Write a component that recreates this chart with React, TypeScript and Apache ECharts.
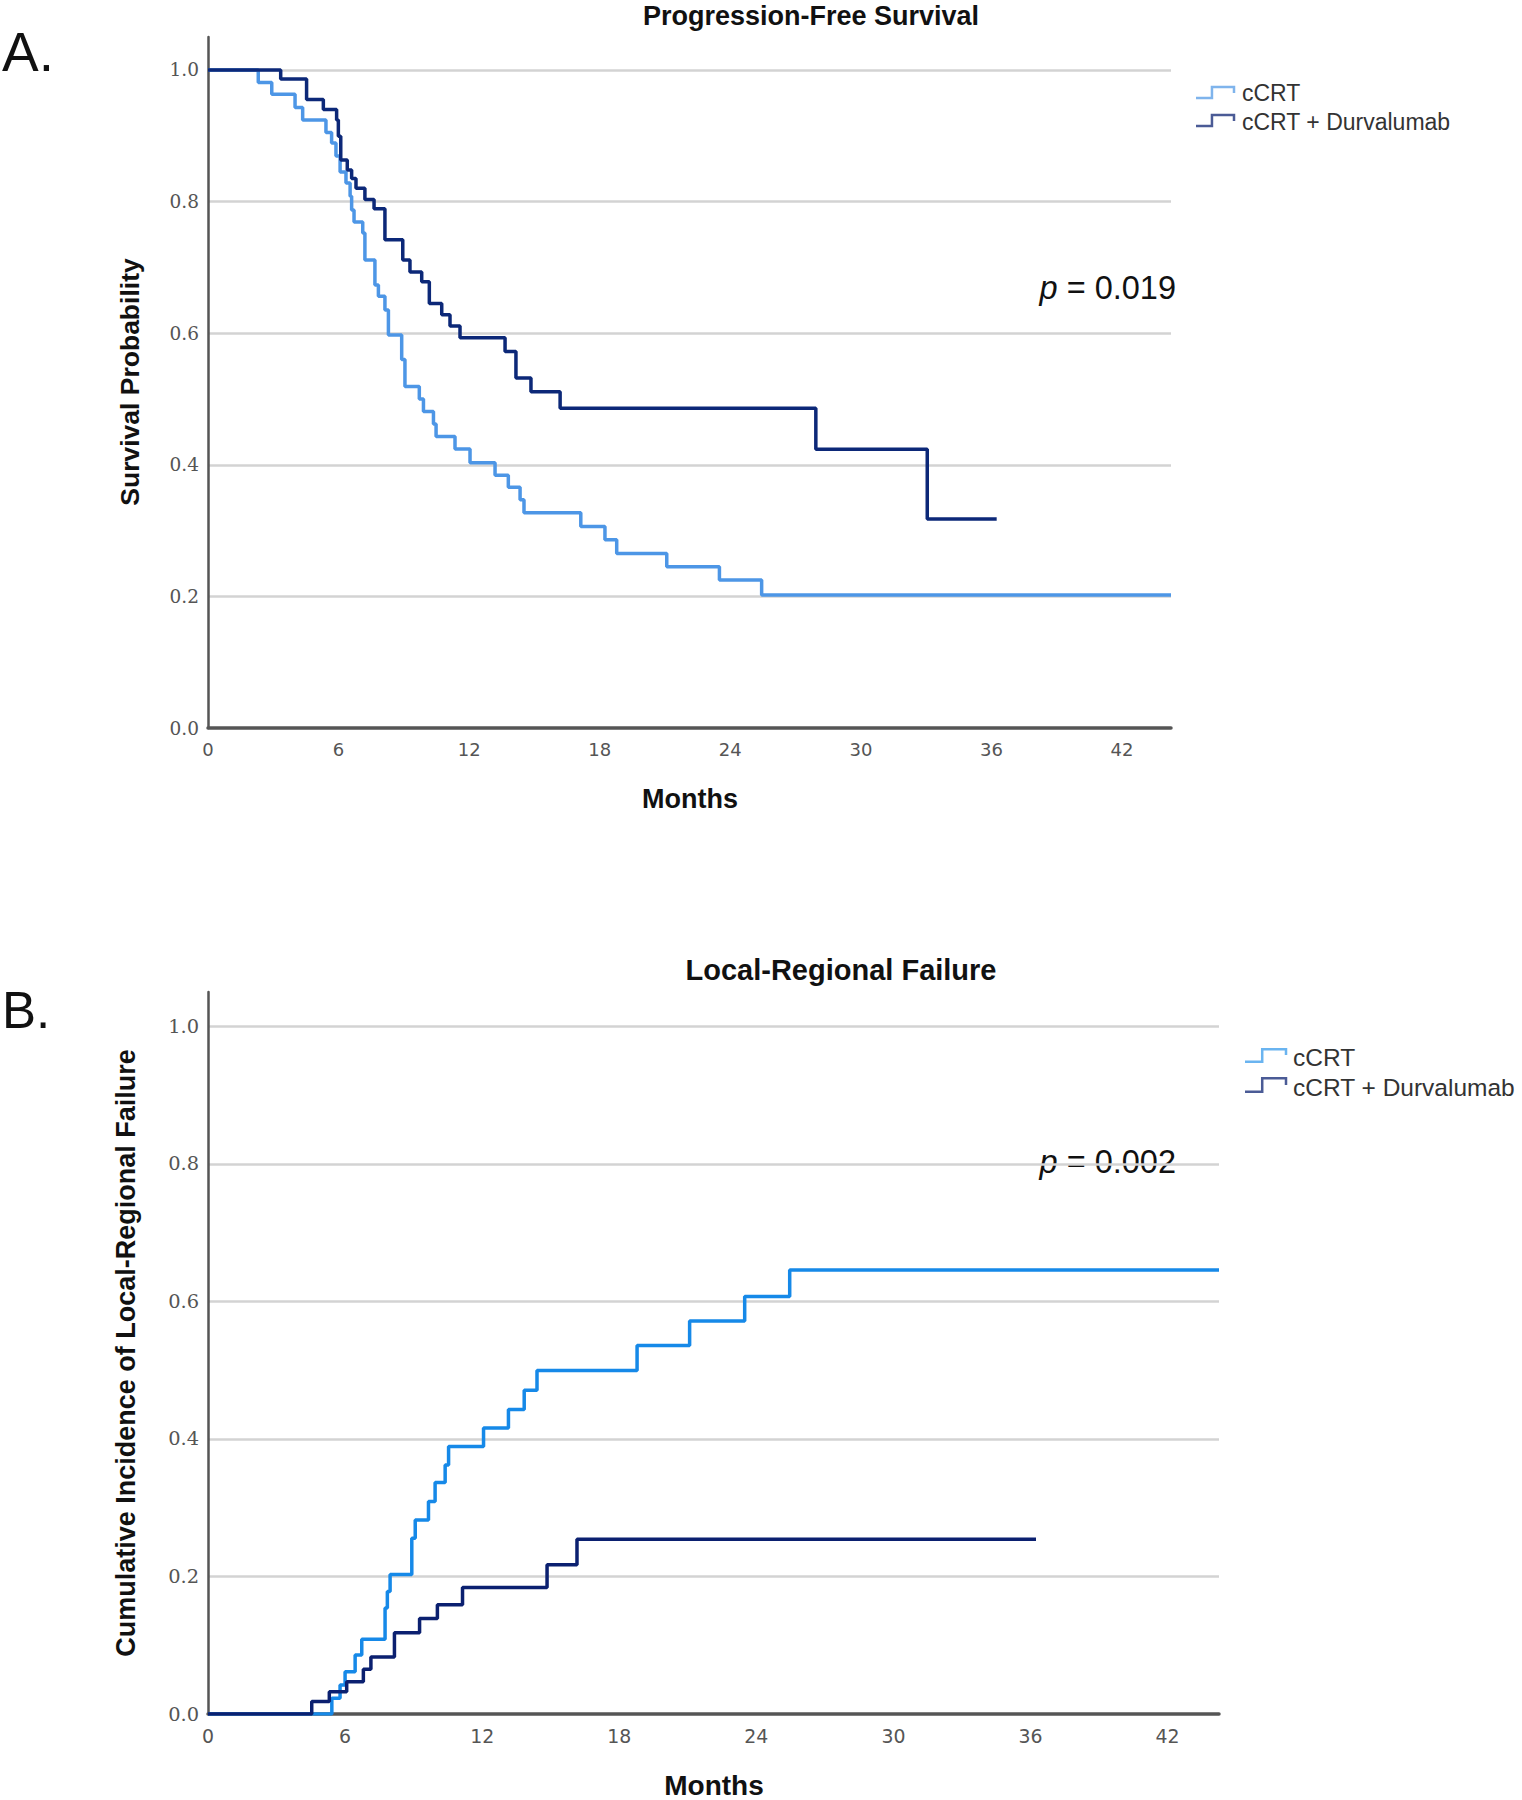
import React, { useEffect, useRef } from "react";
import * as echarts from "echarts";

// ---- data (months, probability) ----
const pfsCCRT: [number, number][] = [
  [0, 1.0], [2.31, 0.981], [2.93, 0.963], [4.0, 0.943], [4.35, 0.924], [5.42, 0.905],
  [5.68, 0.889], [5.88, 0.869], [6.07, 0.845], [6.34, 0.828], [6.53, 0.808], [6.6, 0.787],
  [6.71, 0.769], [7.11, 0.752], [7.21, 0.711], [7.67, 0.673], [7.83, 0.656], [8.13, 0.635],
  [8.29, 0.597], [8.9, 0.56], [9.05, 0.519], [9.71, 0.5], [9.9, 0.481], [10.36, 0.462],
  [10.48, 0.443], [11.35, 0.424], [12.04, 0.403], [13.19, 0.384], [13.8, 0.366],
  [14.34, 0.347], [14.52, 0.327], [17.13, 0.306], [18.24, 0.286], [18.78, 0.265],
  [21.08, 0.245], [23.5, 0.225], [25.44, 0.202], [44.25, 0.202],
];
const pfsDurva: [number, number][] = [
  [0, 1.0], [3.34, 0.986], [4.53, 0.955], [5.3, 0.94], [5.91, 0.924], [5.99, 0.899],
  [6.1, 0.863], [6.4, 0.848], [6.6, 0.835], [6.8, 0.82], [7.21, 0.803], [7.63, 0.789],
  [8.13, 0.742], [8.95, 0.711], [9.28, 0.693], [9.82, 0.678], [10.17, 0.645],
  [10.74, 0.628], [11.12, 0.611], [11.58, 0.593], [13.65, 0.572], [14.15, 0.532],
  [14.84, 0.511], [16.18, 0.486], [27.93, 0.4235], [33.05, 0.3176], [36.24, 0.3176],
];
const lrfCCRT: [number, number][] = [
  [0, 0], [5.42, 0.0228], [5.78, 0.042], [6.0, 0.0615], [6.44, 0.0858], [6.73, 0.1086],
  [7.75, 0.154], [7.85, 0.178], [7.97, 0.203], [8.92, 0.2555], [9.07, 0.282], [9.65, 0.309],
  [9.94, 0.3365], [10.38, 0.362], [10.53, 0.389], [12.06, 0.416], [13.15, 0.443],
  [13.84, 0.471], [14.4, 0.4994], [18.78, 0.5358], [21.08, 0.5716], [23.49, 0.607],
  [25.46, 0.6458], [44.25, 0.6458],
];
const lrfDurva: [number, number][] = [
  [0, 0], [4.54, 0.018], [5.31, 0.0325], [6.07, 0.047], [6.8, 0.065], [7.13, 0.083],
  [8.16, 0.118], [9.26, 0.139], [10.04, 0.159], [11.14, 0.184], [14.84, 0.217],
  [16.15, 0.254], [36.24, 0.254],
];

const groups = ["cCRT", "cCRT + Durvalumab"];
const titles = ["Progression-Free Survival", "Local-Regional Failure"];
const yTitles = ["Survival Probability", "Cumulative Incidence of Local-Regional Failure"];
const xTitle = "Months";
const pValues = ["0.019", "0.002"];
const panelLabels = ["A.", "B."];
const xTickStep = 6;
const yTickStep = 0.2;
const xMax = 44.25;
const yMax = 1.05;

const SANS = "'Liberation Sans', Arial, sans-serif";

export default function App() {
  const ref = useRef<HTMLDivElement>(null);
  useEffect(() => {
    if (!ref.current) return;
    const chart = echarts.init(ref.current, undefined, { renderer: "svg" });

    const isMult = (v: number, s: number) => Math.abs(v / s - Math.round(v / s)) < 1e-6;

    const grids = [
      { left: 208, top: 37, width: 963, height: 691 },
      { left: 208, top: 992, width: 1011, height: 722 },
    ];
    const fontScale = [1, 1.05];

    const xAxes = grids.map((_, i) => ({
      type: "value",
      gridIndex: i,
      min: 0,
      max: xMax,
      interval: xTickStep,
      axisLine: { show: true, lineStyle: { color: "#555", width: 3.5 } },
      axisTick: { show: false },
      splitLine: { show: false },
      axisLabel: {
        showMaxLabel: false,
        formatter: (v: number) => (isMult(v, xTickStep) ? String(Math.round(v)) : ""),
        fontFamily: "'DejaVu Sans', sans-serif",
        fontSize: 18 * fontScale[i],
        color: "#555",
        margin: 12,
      },
    }));
    const yAxes = grids.map((_, i) => ({
      type: "value",
      gridIndex: i,
      min: 0,
      max: yMax,
      interval: yTickStep,
      axisLine: { show: true, lineStyle: { color: "#555", width: 2.5 } },
      axisTick: { show: false },
      splitLine: {
        show: true,
        showMinLine: false,
        showMaxLine: false,
        lineStyle: { color: "#d3d3d3", width: 2.5 },
      },
      axisLabel: {
        showMaxLabel: false,
        formatter: (v: number) => (isMult(v, yTickStep) && v <= 1.0001 ? v.toFixed(1) : ""),
        fontFamily: "'DejaVu Serif', serif",
        fontSize: 18.5 * fontScale[i],
        color: "#555",
        margin: 9,
      },
    }));

    const mk = (name: string, data: [number, number][], idx: number, color: string) => ({
      name,
      type: "line",
      step: "end",
      xAxisIndex: idx,
      yAxisIndex: idx,
      data,
      showSymbol: false,
      symbol: "none",
      lineStyle: { width: 3.5, color },
      itemStyle: { color },
      z: 3,
    });

    const series = [
      mk(groups[0], pfsCCRT, 0, "#4d96e6"),
      mk(groups[1], pfsDurva, 0, "#0c2878"),
      mk(groups[0], lrfCCRT, 1, "#1689e8"),
      mk(groups[1], lrfDurva, 1, "#0b2070"),
    ];

    const legendIcon = (x: number, yLow: number, yTop: number, yEnd: number, w: number, color: string) => ({
      type: "polyline",
      shape: {
        points: [
          [x, yLow],
          [x + w * 0.42, yLow],
          [x + w * 0.42, yTop],
          [x + w, yTop],
          [x + w, yEnd],
        ],
      },
      style: { stroke: color, lineWidth: 2.5, fill: "none" },
    });
    const txt = (
      text: string, x: number, y: number, size: number,
      opts: { bold?: boolean; align?: string; rotation?: number; color?: string } = {}
    ) => ({
      type: "text",
      x,
      y,
      rotation: opts.rotation || 0,
      style: {
        text,
        fontFamily: SANS,
        fontSize: size,
        fontWeight: opts.bold ? "bold" : "normal",
        fill: opts.color || "#111",
        align: opts.align || "center",
        verticalAlign: "middle",
      },
    });
    const pText = (val: string, x: number, y: number, size: number) => ({
      type: "text",
      x,
      y,
      style: {
        text: "{i|p} = " + val,
        fontFamily: SANS,
        fontSize: size,
        fill: "#111",
        align: "right",
        verticalAlign: "middle",
        rich: {
          i: { fontStyle: "italic", fontFamily: SANS, fontSize: size, fill: "#111" },
        },
      },
    });

    const graphic = [
      txt(panelLabels[0], 2, 52, 55, { align: "left" }),
      txt(panelLabels[1], 2, 1010, 51, { align: "left" }),
      txt(titles[0], 811, 16, 27, { bold: true }),
      txt(titles[1], 841, 970, 29, { bold: true }),
      txt(yTitles[0], 130, 382, 26.5, { bold: true, rotation: Math.PI / 2 }),
      txt(yTitles[1], 126, 1353, 27, { bold: true, rotation: Math.PI / 2 }),
      txt(xTitle, 690, 799, 27, { bold: true }),
      txt(xTitle, 714, 1785, 28, { bold: true }),
      pText(pValues[0], 1176, 288, 32.5),
      pText(pValues[1], 1176, 1162, 32.5),
      legendIcon(1196, 98, 87, 93, 38, "#7fb4ec"),
      legendIcon(1196, 126, 115, 121, 38, "#4b5b96"),
      txt(groups[0], 1242, 93, 23, { align: "left", color: "#333" }),
      txt(groups[1], 1242, 122, 23, { align: "left", color: "#333" }),
      legendIcon(1245, 1061.7, 1049.3, 1055, 41, "#6ab4f0"),
      legendIcon(1245, 1091.7, 1078.3, 1085, 41, "#4b5b96"),
      txt(groups[0], 1293, 1057, 24.5, { align: "left", color: "#333" }),
      txt(groups[1], 1293, 1087, 24.5, { align: "left", color: "#333" }),
    ];

    chart.setOption({
      animation: false,
      backgroundColor: "#ffffff",
      grid: grids,
      xAxis: xAxes,
      yAxis: yAxes,
      series,
      graphic,
    } as any);

    return () => chart.dispose();
  }, []);

  return (
    <div
      ref={ref}
      style={{ position: "absolute", left: 0, top: 0, width: 1522, height: 1800, background: "#fff" }}
    />
  );
}
